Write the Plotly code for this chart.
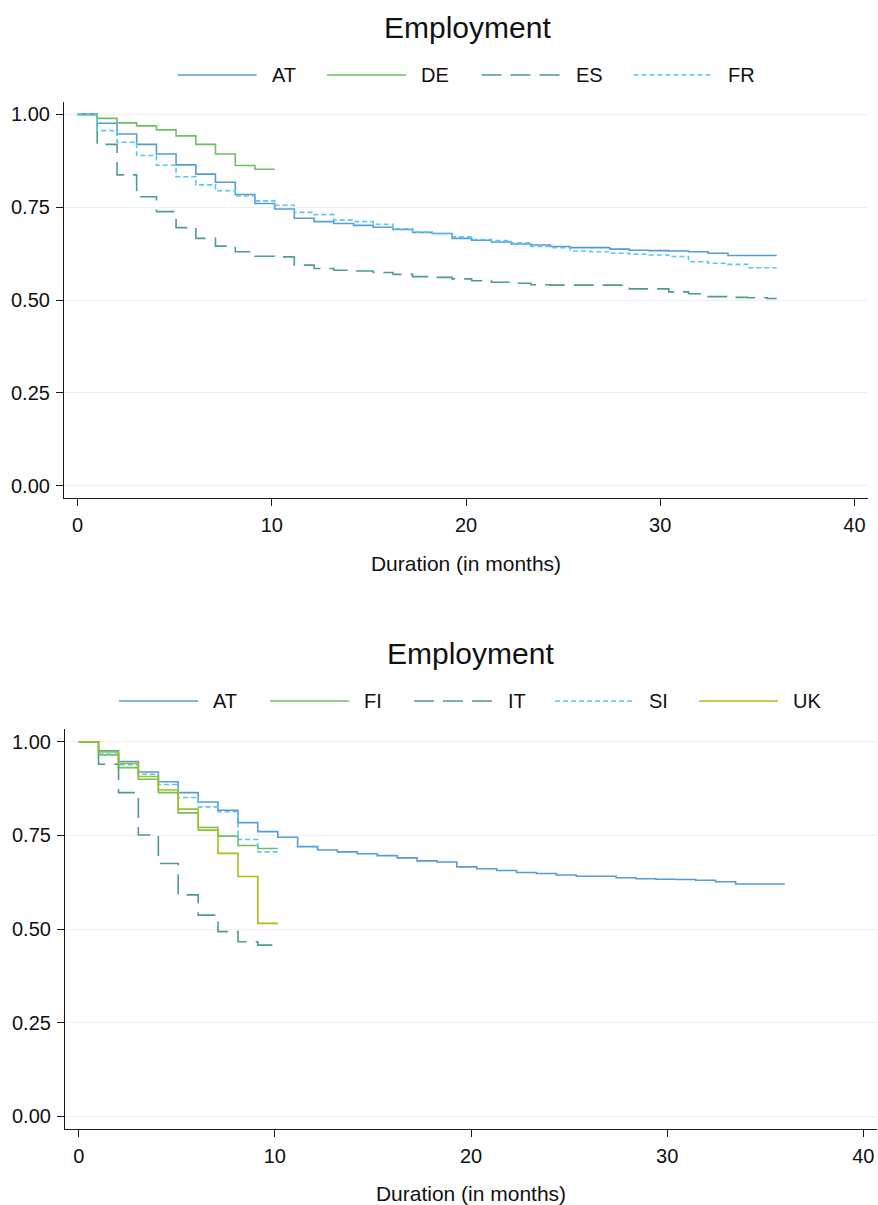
import plotly.graph_objects as go

# ---------------- data ----------------
step_months = [0.00, 1.01, 2.03, 3.04, 4.06, 5.07, 6.09, 7.10, 8.12, 9.13,
               10.15, 11.16, 12.18, 13.19, 14.21, 15.22, 16.24, 17.25, 18.26, 19.28,
               20.29, 21.31, 22.32, 23.34, 24.35, 25.37, 26.38, 27.40, 28.41, 29.43,
               30.44, 31.46, 32.47, 33.49, 34.50, 35.51]
end_long = 36.0
end_short = 10.15

surv_AT = [1.000, 0.976, 0.947, 0.919, 0.893, 0.864, 0.839, 0.817, 0.784, 0.760,
           0.745, 0.720, 0.711, 0.706, 0.701, 0.696, 0.690, 0.682, 0.679, 0.666,
           0.661, 0.656, 0.651, 0.648, 0.644, 0.641, 0.641, 0.637, 0.634, 0.633,
           0.632, 0.630, 0.626, 0.620, 0.620, 0.620]
surv_DE = [1.000, 0.989, 0.977, 0.969, 0.958, 0.942, 0.919, 0.893, 0.862, 0.852]
surv_ES = [1.000, 0.919, 0.837, 0.778, 0.738, 0.695, 0.666, 0.645, 0.630, 0.618,
           0.616, 0.594, 0.585, 0.580, 0.578, 0.574, 0.569, 0.563, 0.561, 0.557,
           0.552, 0.548, 0.545, 0.541, 0.540, 0.540, 0.540, 0.540, 0.530, 0.530,
           0.522, 0.517, 0.509, 0.507, 0.506, 0.504]
surv_FR = [1.000, 0.956, 0.925, 0.889, 0.863, 0.832, 0.810, 0.794, 0.780, 0.767,
           0.755, 0.736, 0.730, 0.715, 0.711, 0.704, 0.692, 0.683, 0.679, 0.670,
           0.663, 0.660, 0.654, 0.644, 0.641, 0.632, 0.630, 0.626, 0.623, 0.621,
           0.617, 0.603, 0.599, 0.596, 0.587, 0.587]
surv_FI = [1.000, 0.965, 0.931, 0.900, 0.864, 0.810, 0.771, 0.748, 0.723, 0.715]
surv_IT = [1.000, 0.940, 0.864, 0.751, 0.675, 0.591, 0.537, 0.493, 0.466, 0.457]
surv_SI = [1.000, 0.967, 0.939, 0.913, 0.886, 0.851, 0.826, 0.813, 0.739, 0.706]
surv_UK = [1.000, 0.973, 0.942, 0.907, 0.871, 0.820, 0.764, 0.702, 0.640, 0.515]

top_countries = ["AT", "DE", "ES", "FR"]
bottom_countries = ["AT", "FI", "IT", "SI", "UK"]
series = {"AT": surv_AT, "DE": surv_DE, "ES": surv_ES, "FR": surv_FR,
          "FI": surv_FI, "IT": surv_IT, "SI": surv_SI, "UK": surv_UK}

y_ticks = [0.00, 0.25, 0.50, 0.75, 1.00]
y_ticklabels = ["0.00", "0.25", "0.50", "0.75", "1.00"]
x_ticks = [0, 10, 20, 30, 40]
panel_title = "Employment"
x_title = "Duration (in months)"

# ---------------- styles ----------------
W, H = 878, 1205
FONT = "Liberation Sans, Arial, Helvetica, sans-serif"
blue = "#579bd8"
green = "#6fbf63"
teal = "#4f9c87"
sky = "#5cc6ef"
lime = "#a2c01a"
style = {
    "AT": dict(color=blue, dash="solid"),
    "DE": dict(color=green, dash="solid"),
    "FI": dict(color=green, dash="solid"),
    "ES": dict(color=teal, dash="20px,9px"),
    "IT": dict(color=teal, dash="20px,9px"),
    "FR": dict(color=sky, dash="5px,3px"),
    "SI": dict(color=sky, dash="5px,3px"),
    "UK": dict(color=lime, dash="solid"),
}
LW = 1.6

# panel pixel boxes: (left, right, top, bottom)
top_box = (64, 868, 101.7, 498.3)
bot_box = (65, 877, 729.0, 1129.0)


def px(x):
    return x / W


def py(y):
    return 1 - y / H


fig = go.Figure()


def add_panel(countries, xa, ya):
    for c in countries:
        vals = series[c]
        n = len(vals)
        end = end_long if n == len(step_months) else end_short
        xs = step_months[:n] + [end]
        ys = vals + [vals[-1]]
        fig.add_trace(go.Scatter(
            x=xs, y=ys, mode="lines", name=c, line_shape="hv",
            line=dict(color=style[c]["color"], dash=style[c]["dash"], width=LW),
            xaxis=xa, yaxis=ya, showlegend=False,
            hovertemplate=c + ": %{y:.3f}<extra></extra>"))


add_panel(top_countries, "x", "y")
add_panel(bottom_countries, "x2", "y2")

axis_common = dict(
    showline=True, linecolor="#1a1a1a", linewidth=1.2, mirror=False,
    ticks="outside", ticklen=7, tickwidth=1.2, tickcolor="#1a1a1a",
    zeroline=False, tickfont=dict(family=FONT, size=20, color="#111"),
)
xcommon = dict(axis_common, range=[-0.7, 40.7], tickvals=x_ticks, showgrid=False,
               ticklabelstandoff=2,
               title=dict(text=x_title, font=dict(family=FONT, size=21, color="#111"),
                          standoff=20))
ycommon = dict(axis_common, range=[-0.034, 1.034], tickvals=y_ticks,
               ticktext=y_ticklabels, showgrid=True, gridcolor="#efefef",
               gridwidth=1.3, ticklabelstandoff=2)

fig.update_layout(
    width=W, height=H, margin=dict(l=0, r=0, t=0, b=0),
    paper_bgcolor="white", plot_bgcolor="white",
    font=dict(family=FONT, color="#111"),
    showlegend=False,
    xaxis=dict(xcommon, domain=[px(top_box[0]), px(top_box[1])], anchor="y"),
    yaxis=dict(ycommon, domain=[py(top_box[3]), py(top_box[2])], anchor="x"),
    xaxis2=dict(xcommon, domain=[px(bot_box[0]), px(bot_box[1])], anchor="y2"),
    yaxis2=dict(ycommon, domain=[py(bot_box[3]), py(bot_box[2])], anchor="x2"),
)

# titles
annotations = []
for cx, cy in [(467, 27), (471, 653)]:
    annotations.append(dict(text=panel_title, x=px(cx), y=py(cy), xref="paper",
                            yref="paper", xanchor="center", yanchor="middle",
                            showarrow=False,
                            font=dict(family=FONT, size=30, color="#111")))

# legends (drawn as keys + labels)
shapes = []
KEY_LEN = 79
TEXT_GAP = 13
legend_rows = [
    (top_countries, [177.7, 327, 481.5, 633.6], 75),
    (bottom_countries, [119, 270, 414, 555, 699], 701),
]
for countries, starts, ly in legend_rows:
    for c, x0 in zip(countries, starts):
        shapes.append(dict(type="line", xref="paper", yref="paper",
                           x0=px(x0), x1=px(x0 + KEY_LEN), y0=py(ly), y1=py(ly),
                           line=dict(color=style[c]["color"], dash=style[c]["dash"],
                                     width=LW)))
        annotations.append(dict(text=c, x=px(x0 + KEY_LEN + TEXT_GAP), y=py(ly),
                                xref="paper", yref="paper", xanchor="left",
                                yanchor="middle", showarrow=False,
                                font=dict(family=FONT, size=20, color="#111")))

fig.update_layout(annotations=annotations, shapes=shapes)
fig.write_html("out.html")
